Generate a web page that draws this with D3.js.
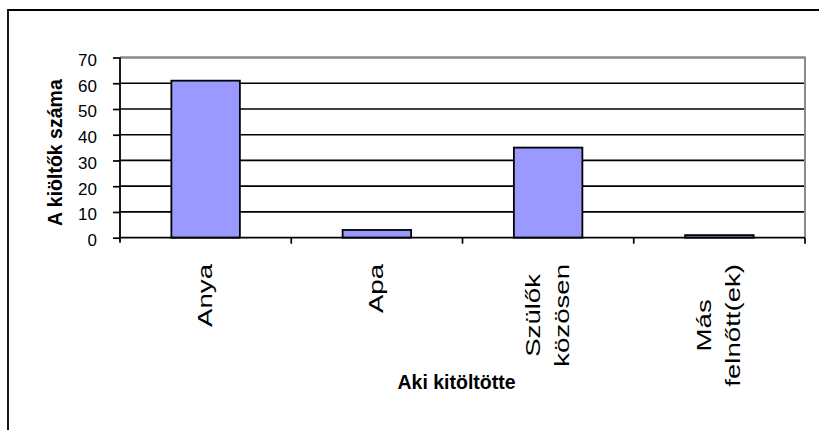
<!DOCTYPE html>
<html>
<head>
<meta charset="utf-8">
<script src="https://cdn.jsdelivr.net/npm/d3@7"></script>
<style>
html, body { margin: 0; padding: 0; background: #fff; }
svg { display: block; font-family: "Liberation Sans", Arial, sans-serif; }
</style>
</head>
<body>
<svg id="chart" width="819" height="430"></svg>
<script>
// ---- data ----
const categories = ["Anya", "Apa", "Szülők közösen", "Más felnőtt(ek)"];
const categoryLines = [["Anya"], ["Apa"], ["Szülők", "közösen"], ["Más", "felnőtt(ek)"]];
const values = [61, 3, 35, 1];
const yTicks = [0, 10, 20, 30, 40, 50, 60, 70];
const xTitle = "Aki kitöltötte";
const yTitle = "A kiöltők száma";

// ---- layout ----
const svg = d3.select("#chart");
const plot = { left: 120, right: 805, top: 57.5, bottom: 237.7 };

svg.append("rect").attr("x", 0).attr("y", 0).attr("width", 819).attr("height", 430).attr("fill", "#fff");

// outer chart border (top & left visible)
svg.append("path")
  .attr("d", "M8,430 L8,10 L819,10")
  .attr("fill", "none").attr("stroke", "#000").attr("stroke-width", 1.8);

const x = d3.scaleBand().domain(categories).range([plot.left, plot.right]).paddingInner(0).paddingOuter(0);
const y = d3.scaleLinear().domain([0, 70]).range([plot.bottom, plot.top]);

// gridlines
svg.append("g").selectAll("line").data(yTicks.filter(d => d > 0)).join("line")
  .attr("x1", plot.left).attr("x2", plot.right)
  .attr("y1", d => y(d)).attr("y2", d => y(d))
  .attr("stroke", "#000").attr("stroke-width", 1.7);

// plot area border (top & right, gray)
svg.append("path")
  .attr("d", `M${plot.left},${plot.top} L${plot.right},${plot.top} L${plot.right},${plot.bottom}`)
  .attr("fill", "none").attr("stroke", "#8c8c8c").attr("stroke-width", 2);

// bars
const barW = x.bandwidth() * 0.4;
svg.append("g").selectAll("rect").data(categories).join("rect")
  .attr("x", d => x(d) + (x.bandwidth() - barW) / 2)
  .attr("width", barW)
  .attr("y", (d, i) => y(values[i]))
  .attr("height", (d, i) => y(0) - y(values[i]))
  .attr("fill", "#9999ff").attr("stroke", "#000").attr("stroke-width", 1.8);

// y axis
const yAxis = d3.axisLeft(y).tickValues(yTicks).tickSize(7).tickPadding(16).tickFormat(d3.format("d"));
const gy = svg.append("g").attr("transform", `translate(${plot.left},0)`).call(yAxis);
gy.select(".domain").attr("d", `M0,${plot.top}V${plot.bottom + 5}`).attr("stroke", "#000").attr("stroke-width", 1.8);
gy.selectAll(".tick line").attr("stroke", "#000").attr("stroke-width", 1.7);
gy.selectAll(".tick text").attr("font-size", 17).attr("font-family", "Liberation Sans, Arial, sans-serif")
  .attr("fill", "#000").attr("dy", "0.47em");

// x axis line + ticks at category boundaries
const boundaries = categories.map(d => x(d)).concat([plot.right]);
svg.append("line").attr("x1", plot.left).attr("x2", plot.right).attr("y1", plot.bottom).attr("y2", plot.bottom)
  .attr("stroke", "#000").attr("stroke-width", 1.8);
svg.append("g").selectAll("line").data(boundaries.slice(1)).join("line")
  .attr("x1", d => d).attr("x2", d => d).attr("y1", plot.bottom).attr("y2", plot.bottom + 6)
  .attr("stroke", "#000").attr("stroke-width", 1.7);

// category labels (rotated, lines centred on each other, longest line ends at labelTop)
const labelFont = 20, lineGap = 29, stretch = 1.38, labelTop = 264;
categoryLines.forEach((lines, i) => {
  const cx = x(categories[i]) + x.bandwidth() / 2;
  const texts = lines.map((t, j) => {
    const lineCenter = cx + (j - (lines.length - 1) / 2) * lineGap;
    return { el: svg.append("text")
      .attr("text-anchor", "middle")
      .attr("font-size", labelFont)
      .attr("fill", "#000")
      .text(t), lineCenter };
  });
  const maxLen = d3.max(texts, d => d.el.node().getComputedTextLength()) * stretch;
  const midY = labelTop + maxLen / 2;
  texts.forEach(d => d.el.attr("transform",
    `translate(${d.lineCenter + 6},${midY}) rotate(-90) scale(${stretch},1)`));
});

// axis titles
svg.append("text")
  .attr("x", (plot.left + plot.right) / 2 - 6).attr("y", 389)
  .attr("text-anchor", "middle").attr("font-weight", "bold").attr("font-size", 19.5)
  .attr("fill", "#000").text(xTitle);

svg.append("text")
  .attr("transform", `translate(62,${(plot.top + plot.bottom) / 2 + 5}) rotate(-90)`)
  .attr("text-anchor", "middle").attr("font-weight", "bold").attr("font-size", 19.5)
  .attr("fill", "#000").text(yTitle);
</script>
</body>
</html>
